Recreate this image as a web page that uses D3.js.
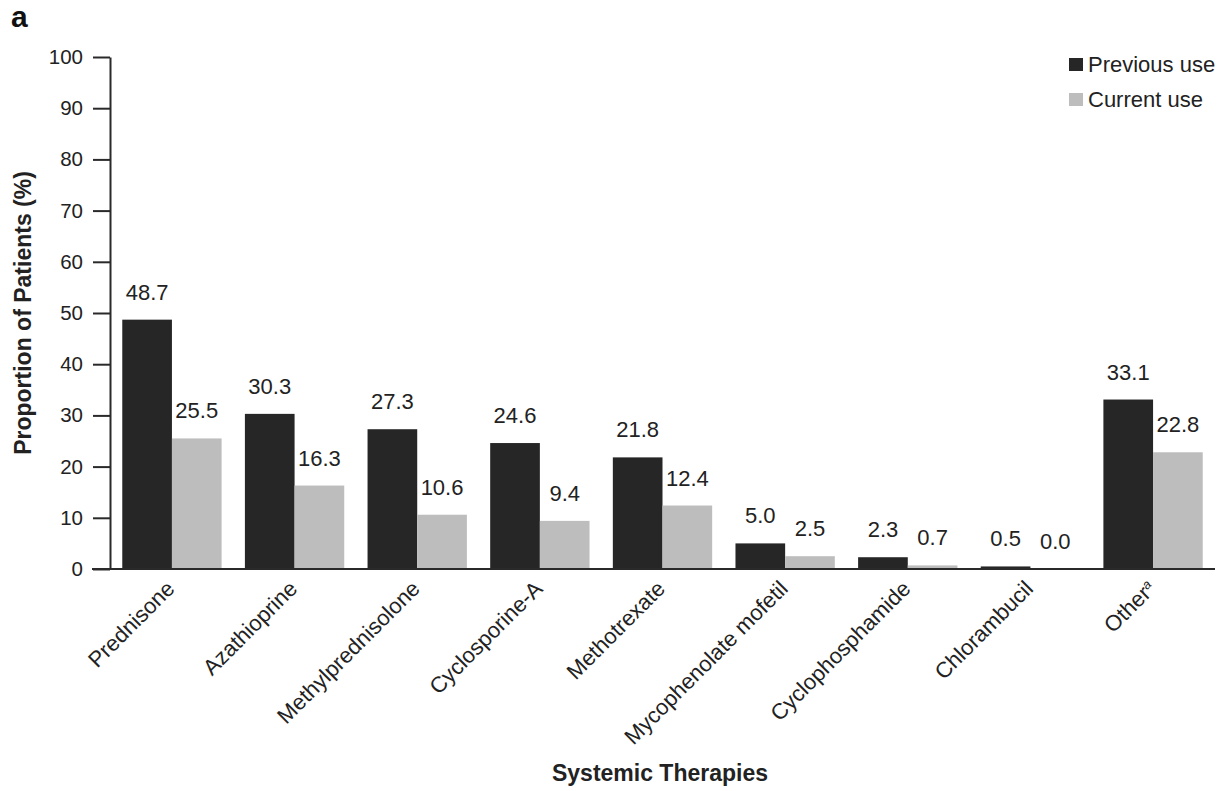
<!DOCTYPE html>
<html>
<head>
<meta charset="utf-8">
<script src="https://cdn.jsdelivr.net/npm/d3@7"></script>
<style>
  body { margin: 0; background: #fff; }
  text { font-family: "Liberation Sans", Arial, Helvetica, sans-serif; }
</style>
</head>
<body>
<div id="chart"></div>
<script>
// données
const therapies = ["Prednisone", "Azathioprine", "Methylprednisolone", "Cyclosporine-A",
  "Methotrexate", "Mycophenolate mofetil", "Cyclophosphamide", "Chlorambucil", "Other"];
const previousUse = [48.7, 30.3, 27.3, 24.6, 21.8, 5.0, 2.3, 0.5, 33.1];
const currentUse = [25.5, 16.3, 10.6, 9.4, 12.4, 2.5, 0.7, 0.0, 22.8];
const seriesNames = ["Previous use", "Current use"];
const yTicks = [0, 10, 20, 30, 40, 50, 60, 70, 80, 90, 100];

const colors = ["#262626", "#bdbdbd"];

const W = 1225, H = 791;
const svg = d3.select("#chart").append("svg")
  .attr("width", W).attr("height", H);

// échelles
const x0 = d3.scaleBand()
  .domain(therapies)
  .range([110, 1215])
  .paddingInner(0.19)
  .paddingOuter(0.1);

const x1 = d3.scaleBand()
  .domain(seriesNames)
  .range([0, x0.bandwidth()]);

const y = d3.scaleLinear()
  .domain([0, 100])
  .range([569, 57]);

const rows = therapies.map((t, i) => ({
  name: t,
  values: [previousUse[i], currentUse[i]]
}));

// axe Y
const yAxis = svg.append("g")
  .attr("transform", "translate(110,0)")
  .call(d3.axisLeft(y).tickValues(yTicks).tickSize(17).tickPadding(10).tickSizeOuter(0));
yAxis.select(".domain").attr("stroke", "#2a2a2a").attr("stroke-width", 2);
yAxis.selectAll(".tick line").attr("stroke", "#2a2a2a").attr("stroke-width", 2);
yAxis.selectAll(".tick text")
  .style("font-size", "20.5px").attr("fill", "#222");

// barres
const groups = svg.append("g").selectAll("g")
  .data(rows)
  .join("g")
  .attr("transform", d => `translate(${x0(d.name)},0)`);

groups.selectAll("rect")
  .data(d => d.values.map((v, j) => ({ key: seriesNames[j], value: v, j })))
  .join("rect")
  .attr("x", d => x1(d.key))
  .attr("width", x1.bandwidth())
  .attr("y", d => y(d.value))
  .attr("height", d => y(0) - y(d.value))
  .attr("fill", d => colors[d.j]);

groups.selectAll("text.val")
  .data(d => d.values.map((v, j) => ({ key: seriesNames[j], value: v })))
  .join("text")
  .attr("class", "val")
  .attr("x", d => x1(d.key) + x1.bandwidth() / 2)
  .attr("y", d => y(d.value) - 20)
  .attr("text-anchor", "middle")
  .style("font-size", "22px")
  .attr("fill", "#222")
  .text(d => d.value.toFixed(1));

// axe X
const xAxis = svg.append("g")
  .attr("transform", "translate(0,569)")
  .call(d3.axisBottom(x0).tickSize(0).tickPadding(0).tickSizeOuter(0));
xAxis.select(".domain").remove();
svg.append("line")
  .attr("x1", 92).attr("x2", 1215)
  .attr("y1", 569).attr("y2", 569)
  .attr("stroke", "#2a2a2a").attr("stroke-width", 2);

xAxis.selectAll(".tick text")
  .attr("transform", "translate(4,21) rotate(-45)")
  .attr("text-anchor", "end")
  .attr("dy", 0)
  .attr("x", 0).attr("y", 0)
  .style("font-size", "22px")
  .attr("fill", "#222")
  .each(function (d) {
    if (d === "Other") {
      const t = d3.select(this);
      t.text("Other");
      t.append("tspan").attr("baseline-shift", "super").style("font-size", "13px").style("font-style", "italic").text("a");
    }
  });

// titres des axes
svg.append("text")
  .attr("transform", `translate(31,${(y(0) + y(100)) / 2}) rotate(-90)`)
  .attr("text-anchor", "middle")
  .style("font-size", "23px")
  .style("font-weight", "bold")
  .attr("fill", "#222")
  .text("Proportion of Patients (%)");

svg.append("text")
  .attr("x", 660).attr("y", 781)
  .attr("text-anchor", "middle")
  .style("font-size", "23px")
  .style("font-weight", "bold")
  .attr("fill", "#222")
  .text("Systemic Therapies");

svg.append("text")
  .attr("x", 11).attr("y", 27)
  .style("font-size", "30px")
  .style("font-weight", "bold")
  .attr("fill", "#111")
  .text("a");

// légende
const legend = svg.append("g").selectAll("g")
  .data(seriesNames)
  .join("g")
  .attr("transform", (d, i) => `translate(1069,${58 + i * 35})`);
legend.append("rect")
  .attr("width", 14).attr("height", 13)
  .attr("fill", (d, i) => colors[i]);
legend.append("text")
  .attr("x", 19).attr("y", 14)
  .style("font-size", "22px")
  .attr("fill", "#222")
  .text(d => d);
</script>
</body>
</html>
